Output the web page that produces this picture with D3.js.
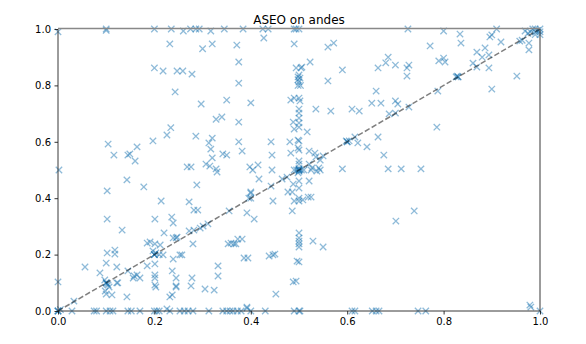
<!DOCTYPE html>
<html>
<head>
<meta charset="utf-8">
<script src="https://cdn.jsdelivr.net/npm/d3@7"></script>
<style>
  body { margin: 0; background: #fff; }
  text { font-family: "DejaVu Sans", sans-serif; }
</style>
</head>
<body>
<div id="chart"></div>
<script>
const title = "ASEO on andes";
const xTicks = [0, 0.2, 0.4, 0.6, 0.8, 1.0];
const yTicks = [0, 0.2, 0.4, 0.6, 0.8, 1.0];
const diagonal = [0, 1];

// points sitting on the top (y = 1) and bottom (y = 0) edges
const edgePoints = [
  [0.0,0.99],[0.1,1.0],[0.1,0.995],[0.2,1.0],[0.235,1.0],[0.26,0.993],[0.275,1.0],[0.286,1.0],
  [0.293,1.0],[0.317,0.993],[0.345,1.0],[0.384,1.0],[0.425,1.0],[0.436,1.0],[0.49,1.0],[0.494,1.0],
  [0.5,1.0],[0.726,1.0],[0.80,0.993],[0.834,0.982],[0.90,0.979],[0.896,0.972],[0.91,1.0],[0.969,0.993],
  [0.029,0],[0.075,0],[0.08,0],[0.1,0],[0.108,0],[0.114,0],[0.145,0],[0.152,0],[0.17,0],[0.2,0],
  [0.205,0],[0.21,0],[0.226,0.007],[0.232,0],[0.253,0],[0.262,0],[0.27,0],[0.28,0],[0.313,0],
  [0.342,0],[0.35,0],[0.357,0],[0.363,0],[0.372,0],[0.38,0],[0.392,0.01],[0.4,0],[0.43,0],
  [0.49,0],[0.5,0],[0.502,0],[0.61,0],[0.616,0],[0.652,0],[0.66,0],[0.666,0],[0.747,0],[0.763,0],
  [0.979,0.021],[0.981,0.014],[1.0,0]
];

// dense spots on the diagonal
const clusterPoints = [
  [0,0],[0,0],[0,0],[0.005,0.005],
  [0.1,0.1],[0.1,0.1],[0.1,0.1],[0.097,0.11],[0.104,0.092],[0.102,0.095],
  [0.2,0.2],[0.2,0.2],[0.2,0.2],[0.203,0.206],[0.197,0.213],[0.21,0.2],[0.218,0.199],
  [0.4,0.4],[0.5,0.5],[0.5,0.5],[0.5,0.5],[0.5,0.5],[0.495,0.5],[0.505,0.5],[0.5,0.495],
  [0.49,0.5],[0.51,0.5],[0.5,0.505],[0.498,0.49],
  [0.6,0.6],[0.6,0.6],[0.83,0.83],[0.83,0.83],
  [0.98,0.99],[0.99,0.99],[1.0,1.0],[0.99,0.98],[1.0,0.99],[0.985,1.0],[0.975,0.985],
  [1.0,0.98],[0.99,1.0],[0.995,0.995]
];

const scatterPoints = [
  [0.977,0.95],[0.977,0.926],[0.963,0.96],[0.958,0.957],[0.919,0.954],
  [0.232,0.947],[0.30,0.93],[0.32,0.947],[0.371,0.943],[0.427,0.968],[0.49,0.947],
  [0.20,0.862],[0.218,0.851],[0.247,0.851],[0.259,0.851],[0.278,0.84],
  [0.375,0.883],[0.375,0.808],[0.243,0.777],[0.35,0.748],[0.297,0.734],[0.40,0.738],
  [0.328,0.68],[0.34,0.688],[0.375,0.67],[0.483,0.748],[0.49,0.755],
  [0.494,0.862],[0.498,0.83],[0.498,0.82],[0.498,0.80],[0.504,0.862],[0.506,0.865],
  [0.50,0.837],[0.502,0.826],[0.5,0.812],[0.503,0.80],
  [0.488,0.67],[0.49,0.645],[0.234,0.65],[0.226,0.624],[0.197,0.603],[0.104,0.592],
  [0.116,0.553],[0.145,0.553],[0.149,0.557],[0.16,0.532],[0.164,0.582],
  [0.286,0.62],[0.313,0.596],[0.32,0.613],[0.317,0.574],[0.32,0.543],[0.328,0.504],[0.33,0.493],
  [0.307,0.521],[0.315,0.514],[0.268,0.511],[0.276,0.511],
  [0.342,0.557],[0.35,0.553],[0.375,0.6],[0.382,0.567],[0.398,0.511],[0.404,0.5],[0.415,0.518],
  [0.442,0.6],[0.444,0.553],[0.444,0.5],[0.481,0.6],[0.483,0.56],[0.498,0.606],[0.498,0.578],
  [0.002,0.5],[0.475,0.475],
  [0.56,0.936],[0.572,0.95],[0.523,0.883],[0.59,0.855],[0.56,0.816],
  [0.685,0.90],[0.68,0.88],[0.664,0.862],[0.70,0.872],[0.728,0.872],[0.724,0.862],[0.724,0.833],
  [0.66,0.78],[0.651,0.737],[0.67,0.737],[0.70,0.745],[0.705,0.734],[0.728,0.723],
  [0.535,0.716],[0.566,0.709],[0.61,0.716],[0.625,0.709],
  [0.5,0.755],[0.502,0.745],[0.5,0.716],[0.5,0.702],[0.5,0.684],[0.5,0.667],[0.5,0.652],
  [0.517,0.635],[0.687,0.699],[0.70,0.702],[0.5,0.603],[0.5,0.571],
  [0.598,0.603],[0.604,0.603],[0.616,0.617],[0.622,0.596],[0.641,0.582],[0.664,0.617],[0.676,0.553],
  [0.521,0.567],[0.533,0.56],[0.535,0.546],[0.55,0.55],[0.544,0.535],[0.541,0.507],[0.527,0.507],
  [0.521,0.521],[0.5,0.532],[0.5,0.521],
  [0.59,0.504],[0.685,0.504],[0.712,0.504],
  [0.772,0.94],[0.79,0.887],[0.80,0.897],[0.803,0.883],[0.836,0.95],
  [0.869,0.918],[0.88,0.90],[0.886,0.933],[0.894,0.908],[0.861,0.879],[0.869,0.865],[0.894,0.862],
  [0.952,0.833],[0.90,0.787],[0.828,0.833],[0.826,0.83],[0.788,0.78],[0.786,0.652],[0.753,0.504],
  [0.525,0.5],[0.537,0.496],[0.544,0.5],
  [0.5,0.461],[0.5,0.436],[0.521,0.461],[0.508,0.394],[0.519,0.404],[0.525,0.404],
  [0.739,0.355],[0.701,0.319],[0.529,0.248],[0.55,0.227],[0.5,0.174],[0.494,0.106],
  [0.143,0.465],[0.102,0.426],[0.178,0.44],[0.214,0.39],[0.102,0.326],[0.201,0.326],[0.133,0.287],
  [0.236,0.333],[0.239,0.312],[0.22,0.277],[0.247,0.262],[0.239,0.259],
  [0.191,0.245],[0.201,0.238],[0.212,0.234],[0.185,0.241],[0.102,0.206],[0.118,0.216],[0.118,0.202],
  [0.056,0.156],[0.1,0.17],[0.122,0.156],[0.087,0.135],[0.145,0.142],
  [0.122,0.1],[0.124,0.1],[0.158,0.124],[0.164,0.128],[0.17,0.117],[0.156,0.117],
  [0.098,0.071],[0.1,0.06],[0.112,0.057],[0.106,0.085],[0.143,0.05],[0.033,0.035],[0.0,0.103],
  [0.272,0.387],[0.282,0.358],[0.29,0.358],[0.288,0.447],
  [0.272,0.284],[0.282,0.287],[0.295,0.294],[0.301,0.301],[0.311,0.309],[0.28,0.238],[0.245,0.259],
  [0.239,0.184],[0.237,0.142],[0.245,0.085],[0.232,0.05],[0.237,0.057],[0.253,0.199],[0.257,0.199],
  [0.278,0.117],[0.276,0.089],[0.245,0.117],[0.245,0.089],[0.305,0.078],[0.324,0.074],
  [0.332,0.16],[0.332,0.124],
  [0.201,0.128],[0.201,0.117],[0.201,0.092],[0.203,0.085],[0.201,0.167],[0.185,0.16],
  [0.353,0.238],[0.359,0.241],[0.365,0.238],[0.369,0.238],[0.373,0.255],[0.382,0.255],
  [0.355,0.355],[0.392,0.348],[0.407,0.326],[0.386,0.188],[0.394,0.188],
  [0.40,0.422],[0.40,0.418],[0.396,0.4],[0.417,0.468],[0.442,0.443],[0.465,0.468],
  [0.438,0.195],[0.446,0.199],[0.45,0.202],[0.452,0.06],[0.446,0.39],[0.392,0.014],
  [0.477,0.422],[0.486,0.422],[0.488,0.45],[0.486,0.355],[0.49,0.39],[0.488,0.103],[0.496,0.177],
  [0.5,0.4],[0.5,0.39],
  [0.5,0.277],[0.5,0.259],[0.5,0.248],[0.5,0.238],[0.5,0.227]
];

const width = 586, height = 344;
const margin = {top: 29, right: 46, bottom: 33, left: 58};

const svg = d3.select("#chart")
    .append("svg")
    .attr("width", width)
    .attr("height", height);

const x = d3.scaleLinear()
    .domain([0, 1])
    .range([margin.left, width - margin.right]);

const y = d3.scaleLinear()
    .domain([0, 1])
    .range([height - margin.bottom, margin.top]);

const allPoints = edgePoints.concat(clusterPoints, scatterPoints);

svg.append("g")
    .selectAll("path")
    .data(allPoints)
    .enter().append("path")
    .attr("transform", d => `translate(${x(d[0])},${y(d[1])})`)
    .attr("d", "M-3.2,-3.2L3.2,3.2M-3.2,3.2L3.2,-3.2")
    .style("fill", "none")
    .style("stroke", "#1f77b4")
    .style("stroke-opacity", 0.5)
    .style("stroke-width", 1.3);

svg.append("line")
    .attr("x1", x(diagonal[0]))
    .attr("y1", y(diagonal[0]))
    .attr("x2", x(diagonal[1]))
    .attr("y2", y(diagonal[1]))
    .style("stroke", "#000")
    .style("stroke-opacity", 0.5)
    .style("stroke-width", 1.5)
    .style("stroke-dasharray", "5.5,2.4");

const xAxis = svg.append("g")
    .attr("transform", `translate(0, ${height - margin.bottom})`)
    .call(d3.axisBottom(x).tickValues(xTicks).tickFormat(d3.format(".1f"))
        .tickSize(3.5).tickPadding(3.5));

const yAxis = svg.append("g")
    .attr("transform", `translate(${margin.left}, 0)`)
    .call(d3.axisLeft(y).tickValues(yTicks).tickFormat(d3.format(".1f"))
        .tickSize(3.5).tickPadding(3.5));

[xAxis, yAxis].forEach(a => {
    a.select(".domain").remove();
    a.selectAll("line").style("stroke", "#000").style("stroke-width", 0.8);
    a.selectAll("text")
        .style("font-family", "DejaVu Sans, sans-serif")
        .style("font-size", "10px")
        .style("fill", "#000");
});

// frame
const x0 = x(0), x1 = x(1), y0 = y(0), y1 = y(1);
svg.append("line").attr("x1", x0).attr("x2", x0).attr("y1", y1).attr("y2", y0)
    .style("stroke", "#222").style("stroke-width", 0.9);
svg.append("line").attr("x1", x1).attr("x2", x1).attr("y1", y1).attr("y2", y0)
    .style("stroke", "#222").style("stroke-width", 0.9);
svg.append("line").attr("x1", x0).attr("x2", x1).attr("y1", y0).attr("y2", y0)
    .style("stroke", "#222").style("stroke-width", 0.9);
svg.append("line").attr("x1", x0).attr("x2", x1).attr("y1", y1 - 0.5).attr("y2", y1 - 0.5)
    .style("stroke", "#888").style("stroke-width", 1.6);

svg.append("text")
    .attr("x", (x0 + x1) / 2)
    .attr("y", 24)
    .attr("text-anchor", "middle")
    .style("font-size", "12px")
    .style("fill", "#000")
    .text(title);
</script>
</body>
</html>
